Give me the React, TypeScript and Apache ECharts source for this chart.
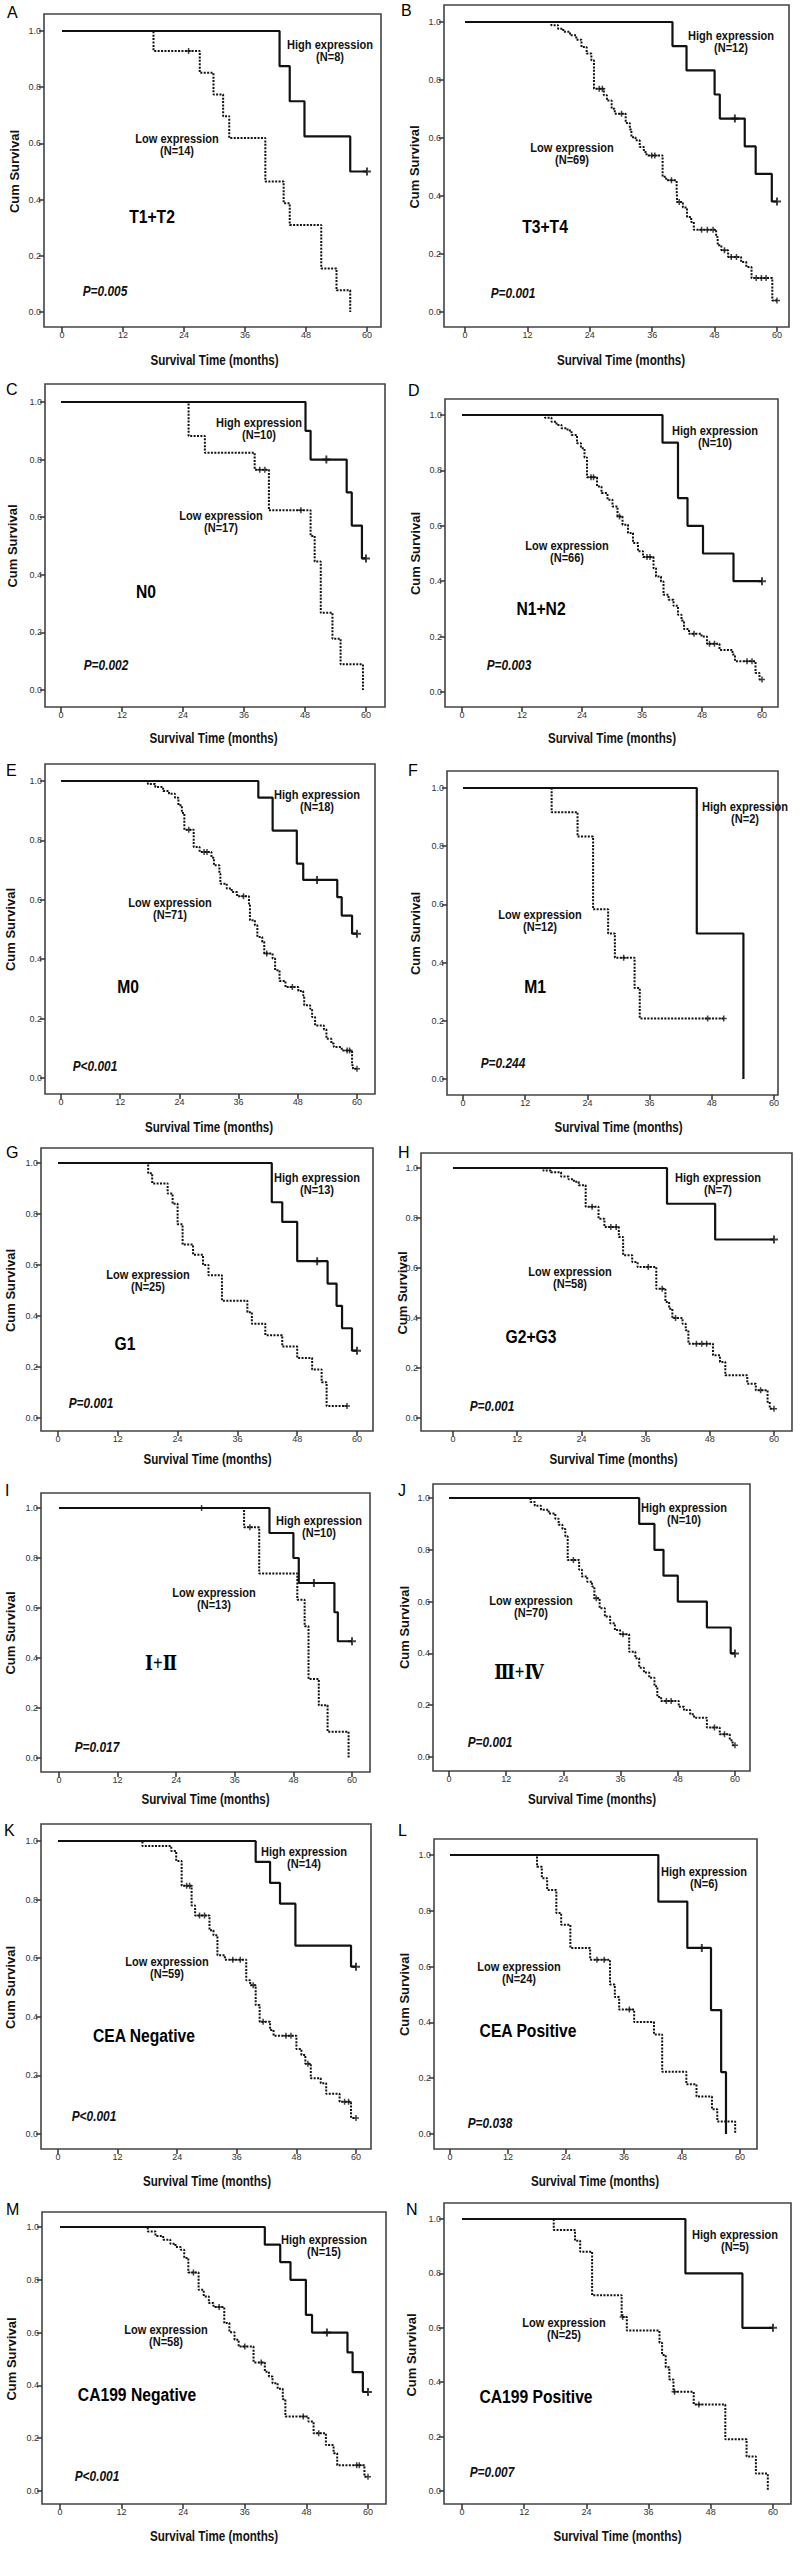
import React, { useEffect, useRef } from "react";
import * as echarts from "echarts";

const xTicks = [0, 12, 24, 36, 48, 60];
const yTicks = [0, 0.2, 0.4, 0.6, 0.8, 1.0];

// ---- Panel A (T1+T2)
const aHigh = [[0, 1], [42.8, 0.875], [44.8, 0.75], [47.7, 0.625], [56.7, 0.5], [60, 0.5]];
const aHighCens = [[60, 0.5]];
const aLow = [[0, 1], [18, 0.929], [27.1, 0.851], [29.8, 0.774], [31.7, 0.697], [32.9, 0.619], [40, 0.464], [43.6, 0.387], [44.8, 0.31], [51, 0.155], [54, 0.077], [56.7, 0]];
const aLowCens = [[24.9, 0.929]];

// ---- Panel B (T3+T4)
const bHigh = [[0, 1], [39.9, 0.917], [42.6, 0.833], [48, 0.75], [49, 0.667], [53.8, 0.571], [55.9, 0.476], [59, 0.381], [60, 0.381]];
const bHighCens = [[51.9, 0.667], [60, 0.381]];
const bLow = [[0, 1], [16.6, 0.989], [17.9, 0.977], [18.9, 0.966], [20.2, 0.954], [21.4, 0.939], [22.4, 0.914], [23.4, 0.891], [24.3, 0.868], [24.8, 0.77], [26.7, 0.747], [27.3, 0.729], [28.2, 0.701], [28.8, 0.684], [30.9, 0.652], [31.7, 0.629], [32.0, 0.603], [32.8, 0.592], [33.6, 0.569], [34.4, 0.552], [34.9, 0.54], [38.0, 0.466], [38.7, 0.454], [40.7, 0.425], [40.8, 0.379], [41.9, 0.36], [42.7, 0.328], [43.5, 0.31], [44.0, 0.284], [48.3, 0.259], [48.6, 0.23], [49.3, 0.213], [50.6, 0.19], [53.1, 0.172], [54.1, 0.155], [55.1, 0.117], [59.1, 0.04], [60, 0.04]];
const bLowCens = [[25.8, 0.77], [26.4, 0.77], [30.1, 0.684], [35.9, 0.54], [36.5, 0.54], [39.7, 0.454], [41.2, 0.379], [45.5, 0.284], [46.6, 0.284], [47.7, 0.284], [49.9, 0.213], [51.2, 0.19], [52.2, 0.19], [56, 0.117], [57, 0.117], [57.9, 0.117], [60, 0.04]];

// ---- Panel C (N0)
const cHigh = [[0, 1], [48.1, 0.9], [49.1, 0.8], [56.2, 0.686], [57.2, 0.571], [59.2, 0.457], [60, 0.457]];
const cHighCens = [[52.2, 0.8], [60, 0.457]];
const cLow = [[0, 1], [25.1, 0.882], [28.3, 0.824], [38.1, 0.765], [40.9, 0.624], [49.1, 0.535], [49.9, 0.446], [51.1, 0.268], [53.4, 0.178], [55.0, 0.089], [59.4, 0]];
const cLowCens = [[39.1, 0.765], [40.1, 0.765], [47.2, 0.624]];

// ---- Panel D (N1+N2)
const dHigh = [[0, 1], [40.1, 0.9], [43.2, 0.7], [45.1, 0.6], [48.2, 0.5], [54.3, 0.4], [60, 0.4]];
const dHighCens = [[60, 0.4]];
const dLow = [[0, 1], [16.6, 0.99], [17.9, 0.976], [18.9, 0.964], [19.9, 0.952], [21.1, 0.944], [21.9, 0.928], [23.0, 0.898], [23.8, 0.88], [24.5, 0.847], [25.0, 0.775], [27.0, 0.742], [27.9, 0.718], [29.1, 0.694], [30.1, 0.67], [31.1, 0.634], [32.1, 0.604], [33.2, 0.574], [34.2, 0.538], [35.2, 0.508], [36.2, 0.487], [38.3, 0.447], [38.8, 0.417], [39.8, 0.399], [40.3, 0.351], [41.3, 0.333], [42.3, 0.311], [43.2, 0.279], [43.9, 0.258], [44.4, 0.227], [45.4, 0.21], [47.9, 0.2], [49.0, 0.174], [51.5, 0.152], [54.1, 0.135], [54.6, 0.111], [58.7, 0.069], [59.5, 0.045], [60, 0.045]];
const dLowCens = [[25.8, 0.775], [26.3, 0.775], [31.5, 0.634], [37, 0.487], [37.6, 0.487], [46.4, 0.21], [49.5, 0.174], [50.5, 0.174], [57, 0.111], [58, 0.111], [60, 0.045]];

// ---- Panel E (M0)
const eHigh = [[0, 1], [40.0, 0.944], [42.9, 0.833], [47.8, 0.722], [49.1, 0.667], [56.0, 0.609], [56.9, 0.547], [59.0, 0.486], [60, 0.486]];
const eHighCens = [[51.9, 0.667], [60, 0.486]];
const eLow = [[0, 1], [17.6, 0.99], [19.1, 0.98], [20.7, 0.966], [21.9, 0.957], [23.1, 0.944], [23.8, 0.918], [24.5, 0.892], [25.0, 0.836], [26.9, 0.778], [28.1, 0.761], [30.5, 0.742], [31.0, 0.716], [32.1, 0.688], [32.3, 0.654], [33.6, 0.638], [34.6, 0.626], [35.7, 0.612], [38.1, 0.587], [38.3, 0.531], [39.3, 0.514], [39.8, 0.475], [40.8, 0.458], [41.2, 0.419], [42.9, 0.402], [43.4, 0.363], [44.3, 0.327], [45.5, 0.306], [48.1, 0.293], [49.1, 0.278], [49.3, 0.245], [50.5, 0.233], [50.9, 0.205], [51.5, 0.177], [53.3, 0.163], [53.8, 0.132], [54.8, 0.116], [55.3, 0.104], [56.9, 0.093], [59.0, 0.043], [59.2, 0.031], [60, 0.031]];
const eLowCens = [[25.9, 0.836], [29.0, 0.761], [29.6, 0.761], [37.0, 0.612], [41.7, 0.419], [46.9, 0.306], [58, 0.093], [58.5, 0.093], [60, 0.031]];

// ---- Panel F (M1)
const fHigh = [[0, 1], [45.1, 0.5], [54.1, 0]];
const fHighCens: number[][] = [];
const fLow = [[0, 1], [17.1, 0.917], [22.1, 0.833], [25.1, 0.583], [28.0, 0.5], [29.3, 0.417], [33.1, 0.313], [34.1, 0.208], [50.3, 0.208]];
const fLowCens = [[31.0, 0.417], [47.2, 0.208], [50.3, 0.208]];

// ---- Panel G (G1)
const gHigh = [[0, 1], [42.9, 0.846], [45.0, 0.769], [48.0, 0.615], [54.1, 0.527], [55.9, 0.44], [57.0, 0.352], [59.0, 0.264], [60, 0.264]];
const gHighCens = [[52, 0.615], [60, 0.264]];
const gLow = [[0, 1], [18.1, 0.96], [18.9, 0.92], [22.0, 0.88], [23.0, 0.84], [24.0, 0.76], [25.0, 0.68], [27.1, 0.64], [29.1, 0.6], [30.2, 0.56], [32.9, 0.46], [38.0, 0.415], [38.9, 0.37], [41.6, 0.325], [45.0, 0.28], [48.0, 0.235], [51.0, 0.19], [52.9, 0.14], [53.9, 0.047], [58.0, 0.047]];
const gLowCens = [[58.0, 0.047]];

// ---- Panel H (G2+G3)
const hHigh = [[0, 1], [40.0, 0.857], [49.0, 0.714], [60, 0.714]];
const hHighCens = [[60, 0.714]];
const hLow = [[0, 1], [16.9, 0.99], [18.3, 0.983], [20.2, 0.966], [21.6, 0.955], [22.6, 0.945], [23.5, 0.931], [24.8, 0.845], [27.2, 0.797], [28.3, 0.764], [31.0, 0.724], [31.8, 0.651], [33.5, 0.624], [34.5, 0.604], [38.0, 0.517], [39.7, 0.464], [40.4, 0.437], [41.0, 0.4], [42.9, 0.377], [43.5, 0.351], [44.0, 0.297], [48.6, 0.251], [49.9, 0.224], [50.9, 0.171], [55.0, 0.137], [56.6, 0.111], [58.8, 0.064], [59.2, 0.037], [60, 0.037]];
const hLowCens = [[26, 0.845], [29.5, 0.764], [30.5, 0.764], [36.5, 0.604], [39.1, 0.517], [41.6, 0.4], [45.5, 0.297], [46.5, 0.297], [47.4, 0.297], [57.5, 0.111], [60, 0.037]];

// ---- Panel I (I+II)
const iHigh = [[0, 1], [43.1, 0.9], [48.0, 0.8], [49.1, 0.7], [56.4, 0.583], [57.1, 0.467], [60, 0.467]];
const iHighCens = [[52.2, 0.7], [60, 0.467]];
const iLow = [[0, 1], [37.9, 0.923], [41.0, 0.738], [48.8, 0.633], [50.3, 0.527], [51.1, 0.316], [53.2, 0.211], [55.0, 0.105], [59.3, 0]];
const iLowCens = [[29.2, 1], [39.1, 0.923]];

// ---- Panel J (III+IV)
const jHigh = [[0, 1], [39.9, 0.9], [43.1, 0.8], [45.0, 0.7], [48.0, 0.6], [54.1, 0.5], [59.1, 0.4], [60, 0.4]];
const jHighCens = [[60, 0.4]];
const jLow = [[0, 1], [17.1, 0.985], [18.0, 0.97], [19.3, 0.955], [20.9, 0.94], [22.3, 0.92], [23.0, 0.897], [23.8, 0.88], [24.4, 0.852], [24.9, 0.761], [27.3, 0.723], [27.9, 0.697], [29.0, 0.677], [30.0, 0.658], [30.5, 0.613], [31.6, 0.574], [32.7, 0.542], [33.8, 0.516], [34.8, 0.49], [35.9, 0.474], [37.8, 0.406], [39.1, 0.381], [39.9, 0.345], [40.9, 0.326], [42.0, 0.306], [43.1, 0.273], [43.7, 0.232], [44.5, 0.216], [48.2, 0.194], [49.3, 0.181], [50.6, 0.165], [51.4, 0.152], [54.1, 0.114], [56.8, 0.088], [58.9, 0.065], [59.5, 0.045], [60, 0.045]];
const jLowCens = [[26.1, 0.761], [30.9, 0.613], [36.5, 0.474], [45.6, 0.216], [46.6, 0.216], [55.7, 0.114], [57.8, 0.088], [60, 0.045]];

// ---- Panel K (CEA Negative)
const kHigh = [[0, 1], [39.8, 0.929], [42.7, 0.857], [44.7, 0.786], [47.8, 0.643], [59.0, 0.571], [60, 0.571]];
const kHighCens = [[60, 0.571]];
const kLow = [[0, 1], [17.0, 0.983], [22.8, 0.966], [23.8, 0.932], [24.9, 0.847], [26.9, 0.78], [27.6, 0.746], [30.5, 0.695], [31.3, 0.678], [32.1, 0.61], [33.6, 0.595], [37.9, 0.525], [38.7, 0.508], [39.8, 0.44], [40.6, 0.383], [42.7, 0.355], [43.4, 0.335], [48.0, 0.29], [49.0, 0.27], [49.8, 0.24], [50.9, 0.19], [52.9, 0.173], [54.0, 0.137], [56.7, 0.11], [59.0, 0.055], [60, 0.055]];
const kLowCens = [[25.9, 0.847], [26.5, 0.847], [28.5, 0.746], [29.5, 0.746], [35.2, 0.595], [36.7, 0.595], [39.3, 0.508], [41.3, 0.383], [45.9, 0.335], [46.9, 0.335], [50.3, 0.24], [57.7, 0.11], [58.5, 0.11], [60, 0.055]];

// ---- Panel L (CEA Positive)
const lHigh = [[0, 1], [43.1, 0.833], [49.1, 0.667], [54.0, 0.444], [56.1, 0.222], [57.1, 0]];
const lHighCens = [[52.1, 0.667]];
const lLow = [[0, 1], [18.0, 0.958], [19.0, 0.917], [20.1, 0.875], [22.0, 0.792], [23.0, 0.75], [24.9, 0.667], [29.0, 0.625], [33.1, 0.536], [34.1, 0.491], [35.0, 0.446], [38.1, 0.401], [42.2, 0.357], [43.9, 0.223], [48.9, 0.178], [51.0, 0.134], [54.2, 0.089], [55.3, 0.045], [59.0, 0]];
const lLowCens = [[30.4, 0.625], [31.9, 0.625], [37.1, 0.446]];

// ---- Panel M (CA199 Negative)
const mHigh = [[0, 1], [39.9, 0.933], [42.9, 0.867], [44.9, 0.8], [47.9, 0.667], [49.1, 0.6], [56.0, 0.525], [57.0, 0.45], [59.0, 0.375], [60, 0.375]];
const mHighCens = [[52, 0.6], [60, 0.375]];
const mLow = [[0, 1], [17.1, 0.983], [18.6, 0.966], [20.1, 0.952], [21.5, 0.937], [22.5, 0.924], [23.5, 0.914], [24.2, 0.883], [25.0, 0.828], [27.0, 0.762], [28.0, 0.737], [29.0, 0.712], [29.9, 0.697], [32.0, 0.636], [33.0, 0.601], [34.0, 0.573], [34.8, 0.547], [37.7, 0.487], [39.9, 0.452], [40.7, 0.434], [41.4, 0.408], [42.4, 0.387], [43.4, 0.348], [43.9, 0.282], [48.4, 0.263], [49.4, 0.219], [51.8, 0.174], [53.3, 0.143], [54.0, 0.098], [59.3, 0.054], [60, 0.054]];
const mLowCens = [[26, 0.828], [31, 0.697], [36, 0.547], [39.2, 0.487], [47.4, 0.282], [50.4, 0.219], [57.8, 0.098], [58.3, 0.098], [60, 0.054]];

// ---- Panel N (CA199 Positive)
const nHigh = [[0, 1], [43.1, 0.8], [54.1, 0.6], [60, 0.6]];
const nHighCens = [[60, 0.6]];
const nLow = [[0, 1], [17.7, 0.96], [21.8, 0.92], [22.8, 0.88], [25.1, 0.72], [30.8, 0.64], [31.8, 0.59], [38.1, 0.545], [38.6, 0.5], [39.3, 0.455], [40.0, 0.41], [40.8, 0.365], [44.7, 0.318], [50.8, 0.19], [54.9, 0.127], [56.7, 0.064], [59.0, 0]];
const nLowCens = [[31, 0.64], [41, 0.365], [45.7, 0.318]];

// Texts
const letters = ["A", "B", "C", "D", "E", "F", "G", "H", "I", "J", "K", "L", "M", "N"];
const groups = ["T1+T2", "T3+T4", "N0", "N1+N2", "M0", "M1", "G1", "G2+G3", "Ⅰ+Ⅱ", "Ⅲ+Ⅳ", "CEA Negative", "CEA Positive", "CA199 Negative", "CA199 Positive"];
const pValues = ["P=0.005", "P=0.001", "P=0.002", "P=0.003", "P<0.001", "P=0.244", "P=0.001", "P=0.001", "P=0.017", "P=0.001", "P<0.001", "P=0.038", "P<0.001", "P=0.007"];
const nHighCounts = [8, 12, 10, 10, 18, 2, 13, 7, 10, 10, 14, 6, 15, 5];
const nLowCounts = [14, 69, 17, 66, 71, 12, 25, 58, 13, 70, 59, 24, 58, 25];

const highSets = [aHigh, bHigh, cHigh, dHigh, eHigh, fHigh, gHigh, hHigh, iHigh, jHigh, kHigh, lHigh, mHigh, nHigh];
const lowSets = [aLow, bLow, cLow, dLow, eLow, fLow, gLow, hLow, iLow, jLow, kLow, lLow, mLow, nLow];
const highCensSets = [aHighCens, bHighCens, cHighCens, dHighCens, eHighCens, fHighCens, gHighCens, hHighCens, iHighCens, jHighCens, kHighCens, lHighCens, mHighCens, nHighCens];
const lowCensSets = [aLowCens, bLowCens, cLowCens, dLowCens, eLowCens, fLowCens, gLowCens, hLowCens, iLowCens, jLowCens, kLowCens, lLowCens, mLowCens, nLowCens];

// Layout (pixels): box [L,T,R,B], x pixel of 0 and 60, y pixel of 1.0 and 0.0
type Layout = {
  box: number[]; xPx: number[]; yPx: number[]; letter: number[]; yTitleX: number; xTitleY: number;
  high: number[]; low: number[]; group: number[]; p: number[];
};
const layouts: Layout[] = [
  { box: [44, 14, 381, 327], xPx: [62, 367], yPx: [31, 312], letter: [7, 12], yTitleX: 14, xTitleY: 360, high: [330, 45], low: [177, 139], group: [152, 217], p: [105, 291] },
  { box: [444, 5, 789, 327], xPx: [465, 777], yPx: [22, 312], letter: [401, 10], yTitleX: 414, xTitleY: 360, high: [731, 36], low: [572, 148], group: [545, 227], p: [513, 293] },
  { box: [45, 384, 385, 707], xPx: [61, 366], yPx: [402, 690], letter: [6, 389], yTitleX: 12, xTitleY: 738, high: [259, 423], low: [221, 516], group: [146, 592], p: [106, 665] },
  { box: [445, 399, 778, 707], xPx: [462, 762], yPx: [415, 692], letter: [408, 390], yTitleX: 415, xTitleY: 738, high: [715, 431], low: [567, 546], group: [541, 609], p: [509, 665] },
  { box: [45, 764, 375, 1094], xPx: [61, 357], yPx: [781, 1078], letter: [6, 770], yTitleX: 10, xTitleY: 1127, high: [317, 795], low: [170, 903], group: [128, 987], p: [95, 1066] },
  { box: [447, 771, 778, 1095], xPx: [463, 774], yPx: [788, 1079], letter: [408, 770], yTitleX: 415, xTitleY: 1127, high: [745, 807], low: [540, 915], group: [535, 987], p: [503, 1063] },
  { box: [41, 1148, 373, 1431], xPx: [58, 357], yPx: [1163, 1418], letter: [6, 1152], yTitleX: 10, xTitleY: 1459, high: [317, 1178], low: [148, 1275], group: [125, 1344], p: [91, 1403] },
  { box: [421, 1153, 792, 1431], xPx: [453, 774], yPx: [1168, 1418], letter: [398, 1152], yTitleX: 402, xTitleY: 1459, high: [718, 1178], low: [570, 1272], group: [531, 1337], p: [492, 1406] },
  { box: [41, 1493, 370, 1772], xPx: [59, 352], yPx: [1508, 1758], letter: [5, 1490], yTitleX: 10, xTitleY: 1799, high: [319, 1521], low: [214, 1593], group: [161, 1663], p: [97, 1747] },
  { box: [433, 1484, 750, 1771], xPx: [449, 735], yPx: [1498, 1757], letter: [398, 1490], yTitleX: 404, xTitleY: 1799, high: [684, 1508], low: [531, 1601], group: [519, 1672], p: [490, 1742] },
  { box: [41, 1824, 371, 2149], xPx: [58, 356], yPx: [1841, 2134], letter: [4, 1830], yTitleX: 10, xTitleY: 2181, high: [304, 1852], low: [167, 1962], group: [144, 2036], p: [94, 2116] },
  { box: [434, 1839, 757, 2149], xPx: [450, 740], yPx: [1855, 2134], letter: [398, 1830], yTitleX: 404, xTitleY: 2181, high: [704, 1872], low: [519, 1967], group: [528, 2031], p: [490, 2123] },
  { box: [42, 2212, 386, 2504], xPx: [60, 368], yPx: [2227, 2491], letter: [6, 2209], yTitleX: 11, xTitleY: 2536, high: [324, 2240], low: [166, 2330], group: [137, 2395], p: [97, 2476] },
  { box: [444, 2203, 791, 2504], xPx: [462, 773], yPx: [2219, 2491], letter: [406, 2209], yTitleX: 411, xTitleY: 2536, high: [735, 2235], low: [564, 2323], group: [536, 2397], p: [492, 2472] },
];

const ARIAL = "'Liberation Sans', Arial, Helvetica, sans-serif";
const SERIF = "'Liberation Serif', 'DejaVu Serif', 'Times New Roman', serif";
const PLUS = "path://M3,0h2v3h3v2h-3v3h-2v-3h-3v-2h3z";

function textEl(text: string, x: number, y: number, opts: any = {}) {
  const align = opts.align || "center";
  return {
    type: "text",
    x,
    y,
    rotation: opts.rotation || 0,
    scaleX: opts.scaleX || 1,
    scaleY: opts.scaleY || 1,
    z: 100,
    silent: true,
    style: {
      text,
      fill: opts.color || "#111",
      fontSize: opts.fontSize || 12,
      fontWeight: opts.fontWeight || "normal",
      fontStyle: opts.fontStyle || "normal",
      fontFamily: opts.fontFamily || ARIAL,
      align,
      textAlign: align,
      verticalAlign: "middle",
      textVerticalAlign: "middle",
    },
  };
}

function buildOption() {
  const grids: any[] = [];
  const xAxes: any[] = [];
  const yAxes: any[] = [];
  const series: any[] = [];
  const graphics: any[] = [];

  layouts.forEach((lay, i) => {
    const [L, T, R, B] = lay.box;
    const [x0, x60] = lay.xPx;
    const [y1, y0] = lay.yPx;
    const pxX = (x60 - x0) / 60;
    const pxY = y0 - y1;
    grids.push({
      left: L, top: T, width: R - L, height: B - T,
      show: true, borderColor: "#444", borderWidth: 1.6, backgroundColor: "#ffffff",
      containLabel: false,
    });
    xAxes.push({
      type: "value", gridIndex: i, position: "bottom",
      min: -(x0 - L) / pxX, max: 60 + (R - x60) / pxX,
      offset: 0,
      axisLine: { show: false, onZero: false },
      splitLine: { show: false },
      axisTick: { show: true, customValues: xTicks, length: 5, lineStyle: { color: "#333", width: 1.5 } },
      axisLabel: { customValues: xTicks, margin: 3, fontSize: 9, color: "#333", fontFamily: ARIAL, formatter: (v: number) => String(Math.round(v)) },
    });
    yAxes.push({
      type: "value", gridIndex: i, position: "left",
      min: -(B - y0) / pxY, max: 1 + (y1 - T) / pxY,
      offset: 0,
      axisLine: { show: false, onZero: false },
      splitLine: { show: false },
      axisTick: { show: true, customValues: yTicks, length: 5, lineStyle: { color: "#333", width: 1.5 } },
      axisLabel: { customValues: yTicks, margin: 3, fontSize: 9, color: "#333", fontFamily: ARIAL, formatter: (v: number) => v.toFixed(1) },
    });

    series.push({
      type: "line", xAxisIndex: i, yAxisIndex: i, data: lowSets[i], step: "end",
      symbol: "none", showSymbol: false, silent: true, z: 3,
      lineStyle: { color: "#111", width: 2, type: [2, 1.4] },
    });
    series.push({
      type: "line", xAxisIndex: i, yAxisIndex: i, data: highSets[i], step: "end",
      symbol: "none", showSymbol: false, silent: true, z: 4,
      lineStyle: { color: "#111", width: 2.2, type: "solid" },
    });
    series.push({
      type: "scatter", xAxisIndex: i, yAxisIndex: i, data: lowCensSets[i],
      symbol: PLUS, symbolSize: 6, silent: true, z: 5,
      itemStyle: { color: "#111" },
    });
    series.push({
      type: "scatter", xAxisIndex: i, yAxisIndex: i, data: highCensSets[i],
      symbol: PLUS, symbolSize: 8, silent: true, z: 5,
      itemStyle: { color: "#111" },
    });

    graphics.push(textEl(letters[i], lay.letter[0], lay.letter[1], { align: "left", fontSize: 16, color: "#000" }));
    graphics.push(textEl("Cum Survival", lay.yTitleX, (y1 + y0) / 2, { rotation: Math.PI / 2, fontSize: 13, fontWeight: "bold", color: "#111" }));
    graphics.push(textEl("Survival Time (months)", (x0 + x60) / 2, lay.xTitleY, { fontSize: 14, fontWeight: "bold", scaleX: 0.83, color: "#111" }));
    graphics.push(textEl("High expression", lay.high[0], lay.high[1], { fontSize: 13, fontWeight: "bold", scaleX: 0.85 }));
    graphics.push(textEl("(N=" + nHighCounts[i] + ")", lay.high[0], lay.high[1] + 12, { fontSize: 13, fontWeight: "bold", scaleX: 0.85 }));
    graphics.push(textEl("Low expression", lay.low[0], lay.low[1], { fontSize: 13, fontWeight: "bold", scaleX: 0.85 }));
    graphics.push(textEl("(N=" + nLowCounts[i] + ")", lay.low[0], lay.low[1] + 12, { fontSize: 13, fontWeight: "bold", scaleX: 0.85 }));
    const serif = i === 8 || i === 9;
    graphics.push(textEl(groups[i], lay.group[0], lay.group[1], serif
      ? { fontSize: 20, fontWeight: "bold", fontFamily: SERIF, color: "#000", scaleX: 0.85 }
      : { fontSize: 18, fontWeight: "bold", color: "#000", scaleX: 0.87 }));
    graphics.push(textEl(pValues[i], lay.p[0], lay.p[1], { fontSize: 14, fontWeight: "bold", fontStyle: "italic", scaleX: 0.85 }));
  });

  return {
    animation: false,
    backgroundColor: "#ffffff",
    grid: grids,
    xAxis: xAxes,
    yAxis: yAxes,
    series,
    graphic: { elements: graphics },
  };
}

export default function App() {
  const ref = useRef<HTMLDivElement>(null);
  useEffect(() => {
    if (!ref.current) return;
    const chart = echarts.init(ref.current, null, { renderer: "svg", width: 800, height: 2549 });
    chart.setOption(buildOption());
    return () => chart.dispose();
  }, []);
  return (
    <div
      ref={ref}
      style={{ position: "absolute", left: 0, top: 0, width: 800, height: 2549, background: "#fff" }}
    />
  );
}
